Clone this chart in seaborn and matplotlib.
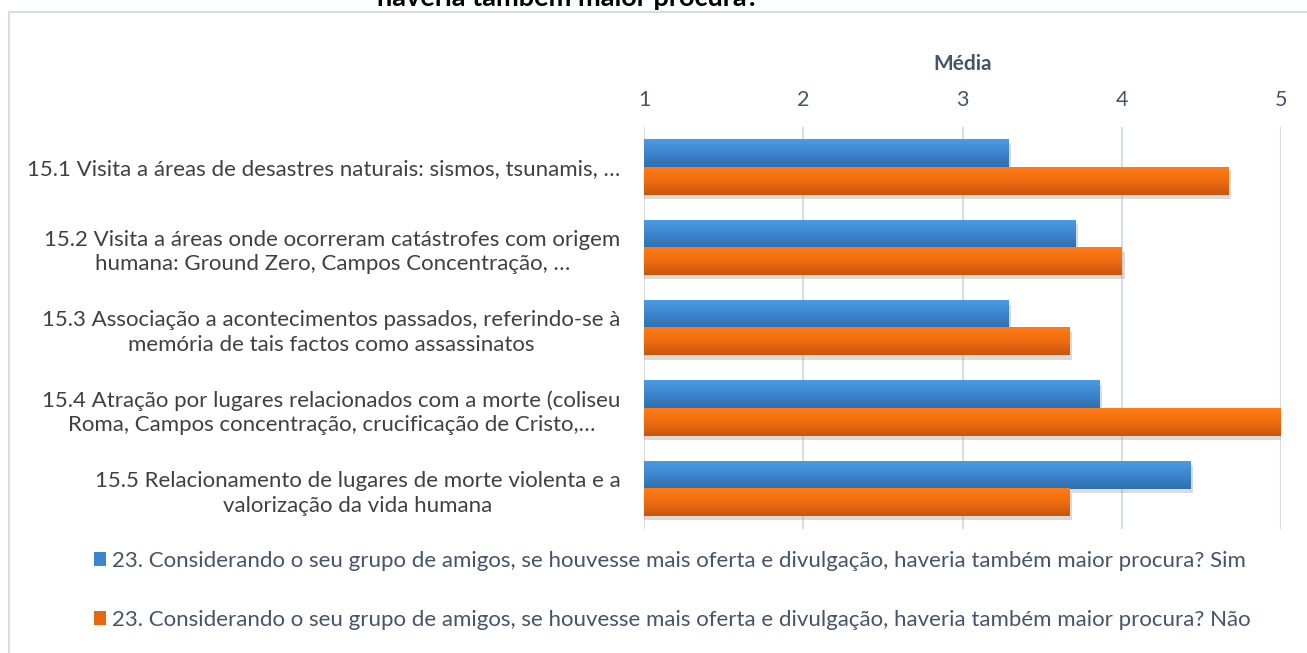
import numpy as np
import pandas as pd
import matplotlib
matplotlib.use("Agg")
import matplotlib.pyplot as plt
import seaborn as sns
from matplotlib.colors import LinearSegmentedColormap
from matplotlib.patches import Patch
import matplotlib.patheffects as pe

categories = [
    "15.1 Visita a áreas de desastres naturais: sismos, tsunamis, …",
    "15.2 Visita a áreas onde ocorreram catástrofes com origem\nhumana: Ground Zero, Campos Concentração, …",
    "15.3 Associação a acontecimentos passados, referindo-se à\nmemória de tais factos como assassinatos",
    "15.4 Atração por lugares relacionados com a morte (coliseu\nRoma, Campos concentração, crucificação de Cristo,…",
    "15.5 Relacionamento de lugares de morte violenta e a\nvalorização da vida humana",
]
series_names = [
    "23. Considerando o seu grupo de amigos, se houvesse mais oferta e divulgação, haveria também maior procura? Sim",
    "23. Considerando o seu grupo de amigos, se houvesse mais oferta e divulgação, haveria também maior procura? Não",
]
values_sim = [3.29, 3.71, 3.29, 3.86, 4.43]
values_nao = [4.67, 4.00, 3.67, 5.00, 3.67]
x_ticks = [1, 2, 3, 4, 5]
axis_title = "Média"
title_text = "haveria também maior procura?"

df = pd.DataFrame({
    "cat": categories * 2,
    "serie": [series_names[0]] * 5 + [series_names[1]] * 5,
    "val": values_sim + values_nao,
})

sns.set_theme(style="white")
plt.rcParams["font.family"] = ["Lato", "DejaVu Sans"]

W, H = 1307, 653
fig = plt.figure(figsize=(W / 100, H / 100), dpi=100)
ax = fig.add_axes([644 / W, 1 - 529 / H, (1281 - 644) / W, (529 - 127) / H])

blue_base, orange_base = "#3b86cf", "#e8680f"
sns.barplot(data=df, y="cat", x="val", hue="serie", orient="h",
            palette=[blue_base, orange_base], ax=ax, width=0.68,
            legend=False, saturation=1, zorder=3)

cm_blue = LinearSegmentedColormap.from_list("b", ["#4a9be4", "#3d85cc", "#2e6fae"])
cm_orange = LinearSegmentedColormap.from_list("o", ["#ff7b14", "#ef6d10", "#c9560d"])
grad = np.linspace(0, 1, 64).reshape(-1, 1)

ax.set_xlim(1, 5)
ylim = ax.get_ylim()
xlim = ax.get_xlim()
for p in list(ax.patches):
    x0, y0, w, h = p.get_x(), p.get_y(), p.get_width(), p.get_height()
    if w == 0:
        continue
    fc = p.get_facecolor()
    is_blue = fc[2] > fc[0]
    cmap = cm_blue if is_blue else cm_orange
    p.set_path_effects([pe.SimplePatchShadow(offset=(2, -3), shadow_rgbFace="#9a9a9a", alpha=0.35),
                        pe.Normal()])
    p.set_edgecolor("none")
    ax.imshow(grad, cmap=cmap, aspect="auto", origin="upper",
              extent=(x0, x0 + w, y0 + h, y0), zorder=4, interpolation="bilinear")
ax.set_ylim(ylim)
ax.set_xlim(xlim)

# Axis styling
ax.xaxis.tick_top()
ax.xaxis.set_label_position("top")
ax.set_xticks(x_ticks)
ax.set_xticklabels([str(t) for t in x_ticks])
ax.tick_params(axis="x", length=0, pad=12.5, labelsize=15.5, labelcolor="#44546a")
ax.tick_params(axis="y", length=0, pad=17, labelsize=16, labelcolor="#404040")
for lab in ax.get_yticklabels():
    lab.set_multialignment("center")
    lab.set_linespacing(1.3)
ax.set_xlabel(axis_title, fontsize=15, fontweight="bold", color="#44546a", labelpad=14)
ax.set_ylabel("")
ax.grid(axis="x", color="#d9dde3", linewidth=1.5, zorder=0)
ax.grid(axis="y", visible=False)
for s in ax.spines.values():
    s.set_visible(False)

# chart frame
fig.add_artist(plt.Line2D([9 / W, 1], [1 - 12 / H, 1 - 12 / H], color="#d9dde3", lw=1.5))
fig.add_artist(plt.Line2D([9 / W, 9 / W], [0, 1 - 12 / H], color="#d9dde3", lw=1.5))

# Title (partially cut at the top, as in the reference)
fig.text(568 / W, 1 - 6 / H, title_text, ha="center", va="baseline",
         fontsize=19.5, fontweight="bold", color="#000000")

# Legend
handles = [Patch(facecolor=blue_base, edgecolor="none"), Patch(facecolor=orange_base, edgecolor="none")]
fig.legend(handles, series_names, loc="upper left", bbox_to_anchor=(85 / W, 1 - 542 / H),
           frameon=False, fontsize=16, labelcolor="#44546a", handlelength=0.55, handleheight=0.55,
           handletextpad=0.25, labelspacing=1.75, borderaxespad=0)

fig.savefig("out.png", dpi=100)
